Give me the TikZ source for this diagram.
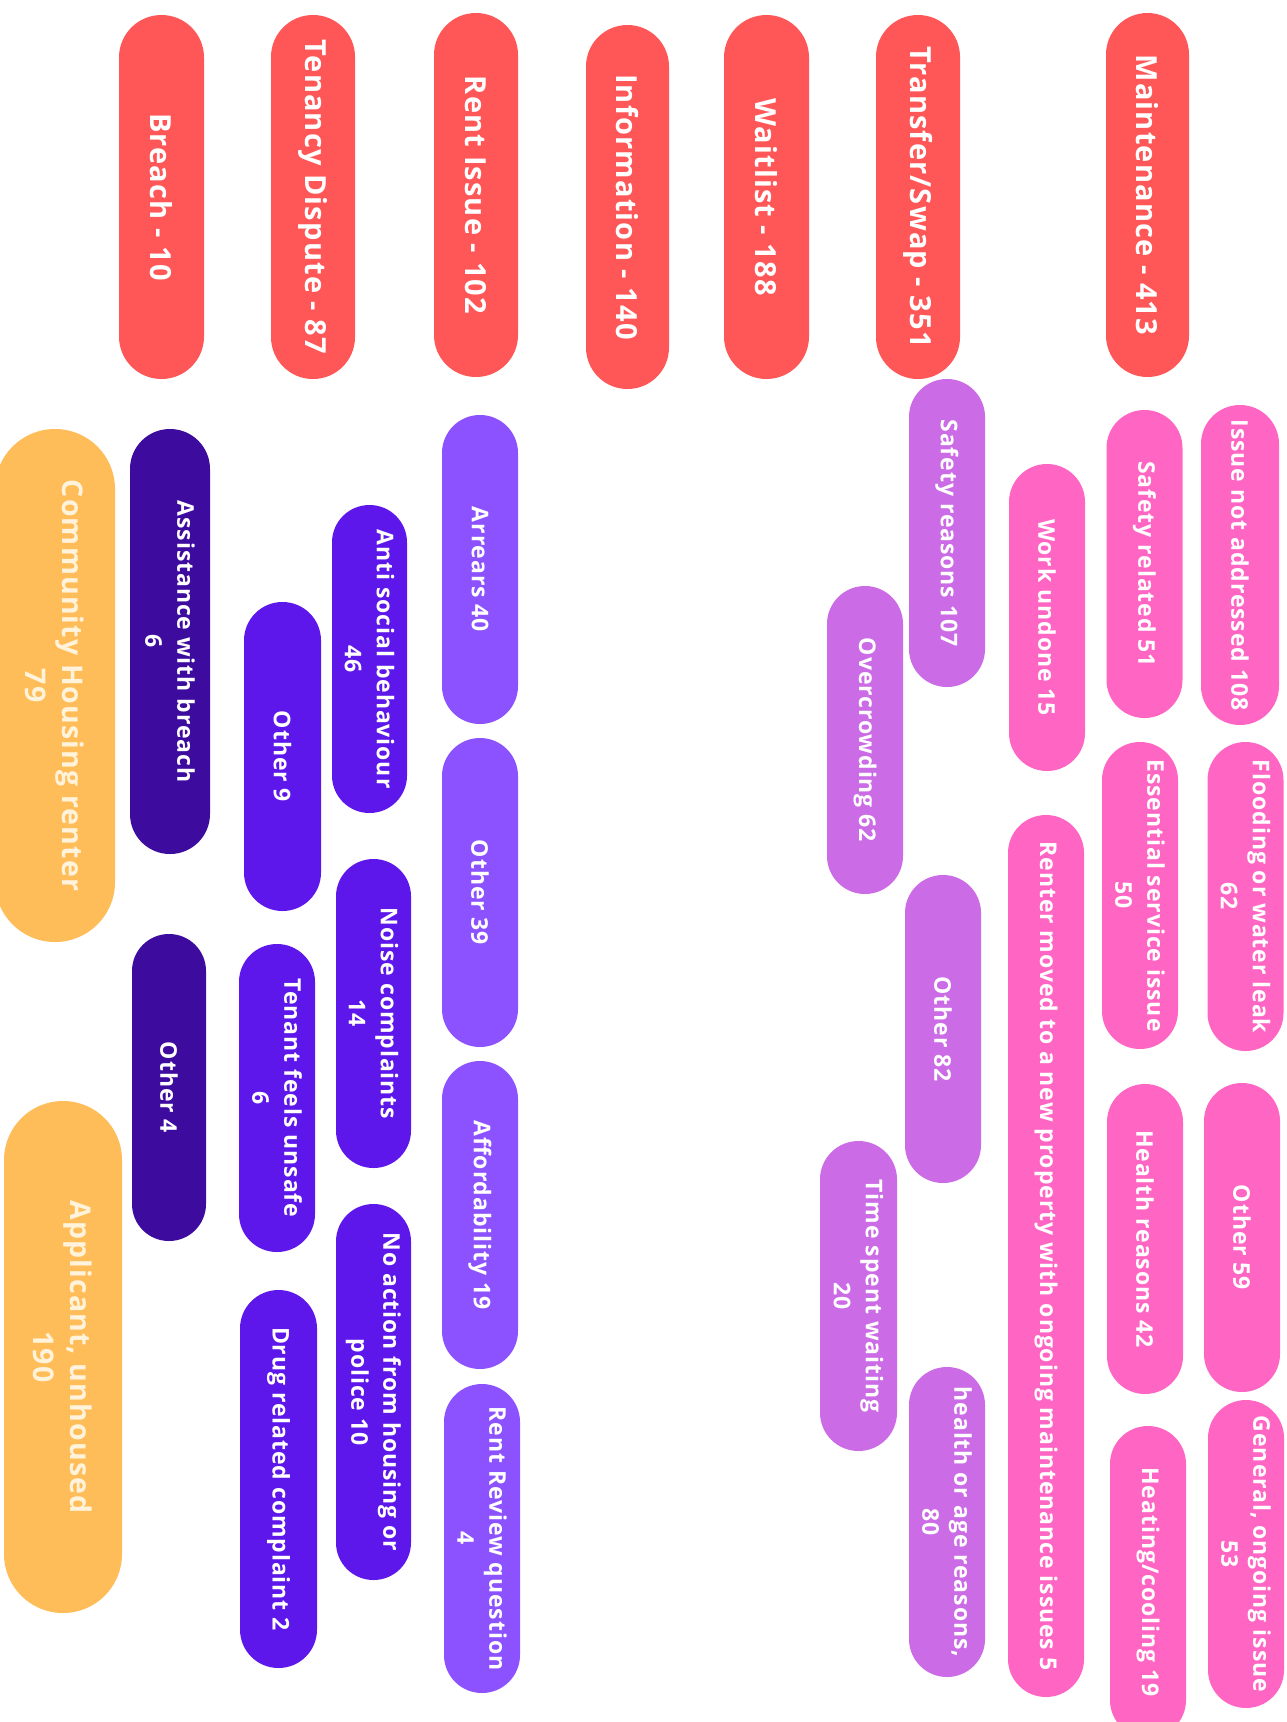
\documentclass[tikz,border=0pt]{standalone}
\usepackage{fontspec}
\setmainfont{Open Sans}[LetterSpace=4]
\definecolor{cRed}{HTML}{FF5757}
\definecolor{cPink}{HTML}{FF66C4}
\definecolor{cOrchid}{HTML}{CB6CE6}
\definecolor{cPurple}{HTML}{8C52FF}
\definecolor{cViolet}{HTML}{5E17EB}
\definecolor{cIndigo}{HTML}{3D0C9E}
\definecolor{cOrange}{HTML}{FFBD59}
\definecolor{cCream}{HTML}{FFF3DC}
\tikzset{
  pill/.style={rotate=-90, inner sep=0pt, align=center, text=white,
    font=\bfseries\fontsize{23}{32}\selectfont},
  dims/.style 2 args={minimum width=#1pt, minimum height=#2pt, rounded corners=#2*0.499pt},
  head/.style={pill, fill=cRed, font=\bfseries\fontsize{29}{34}\selectfont},
  pink/.style={pill, fill=cPink},
  orchid/.style={pill, fill=cOrchid},
  purple/.style={pill, fill=cPurple},
  violet/.style={pill, fill=cViolet},
  indigo/.style={pill, fill=cIndigo},
  orange/.style={pill, fill=cOrange, text=cCream, font=\bfseries\fontsize{28.5}{37}\selectfont},
}
\begin{document}
\begin{tikzpicture}[x=1pt,y=-1pt]
\useasboundingbox (0,0) rectangle (1286,1722);
\clip (0,0) rectangle (1286,1722);
% headers
\node[head, dims={364}{83}] (mnt) at (1147.5,195) {Maintenance - 413};
\node[head, dims={364}{84}] (trf) at (918,197) {Transfer/Swap - 351};
\node[head, dims={364}{85}] (wait) at (766.5,197) {Waitlist - 188};
\node[head, dims={364}{83}] (info) at (627.5,207) {Information - 140};
\node[head, dims={364}{84}] (rent) at (476,195) {Rent Issue - 102};
\node[head, dims={364}{84}] (ten) at (313,197) {Tenancy Dispute - 87};
\node[head, dims={364}{85}] (brc) at (161.5,197) {Breach - 10};
% maintenance
\node[pink, dims={320}{78}] (m1) at (1240,565) {Issue not addressed 108};
\node[pink, dims={309}{76}] (m2) at (1245.5,896.5) {Flooding or water leak\\62};
\node[pink, dims={309}{76}] (m3) at (1242,1237.5) {Other 59};
\node[pink, dims={308}{76}] (m4) at (1246,1554) {General, ongoing issue\\53};
\node[pink, dims={308}{76}] (m5) at (1144.5,564) {Safety related 51};
\node[pink, dims={307}{76}] (m6) at (1140,895.5) {Essential service issue\\50};
\node[pink, dims={310}{76}] (m7) at (1145,1239) {Health reasons 42};
\node[pink, dims={312}{76}] (m8) at (1148,1582) {Heating/cooling 19};
\node[pink, dims={307}{76}] (m9) at (1047,617.5) {Work undone 15};
\node[pink, dims={882}{76}] (m10) at (1046,1256) {Renter moved to a new property with ongoing maintenance issues 5};
% transfer
\node[orchid, dims={308}{76}] (t1) at (947,533) {Safety reasons 107};
\node[orchid, dims={308}{76}] (t2) at (943,1029) {Other 82};
\node[orchid, dims={310}{76}] (t3) at (947,1522) {health or age reasons,\\80};
\node[orchid, dims={308}{76}] (t4) at (865,740) {Overcrowding 62};
\node[orchid, dims={310}{77}] (t5) at (858.5,1296) {Time spent waiting\\20};
% rent
\node[purple, dims={309}{76}] (r1) at (480,569.5) {Arrears 40};
\node[purple, dims={309}{76}] (r2) at (480,892.5) {Other 39};
\node[purple, dims={308}{76}] (r3) at (480,1215) {Affordability 19};
\node[purple, dims={309}{76}] (r4) at (482,1538.5) {Rent Review question\\4};
% tenancy
\node[violet, dims={308}{75}] (d1) at (369.5,659) {Anti social behaviour\\46};
\node[violet, dims={309}{75}] (d2) at (373.5,1013.5) {Noise complaints\\14};
\node[violet, dims={376}{75}] (d3) at (373.5,1392) {No action from housing or\\police 10};
\node[violet, dims={309}{77}] (d4) at (282.5,756.5) {Other 9};
\node[violet, dims={308}{76}] (d5) at (277,1098) {Tenant feels unsafe\\6};
\node[violet, dims={378}{77}] (d6) at (278.5,1479) {Drug related complaint 2};
% breach
\node[indigo, dims={425}{80}] (b1) at (170,641.5) {Assistance with breach\\6};
\node[indigo, dims={307}{74}] (b2) at (169,1087.5) {Other 4};
% orange
\node[orange, dims={513}{120}] (o1) at (55,685.5) {Community Housing renter\\79};
\node[orange, dims={512}{118}] (o2) at (63,1357) {Applicant, unhoused\\190};
\end{tikzpicture}
\end{document}
